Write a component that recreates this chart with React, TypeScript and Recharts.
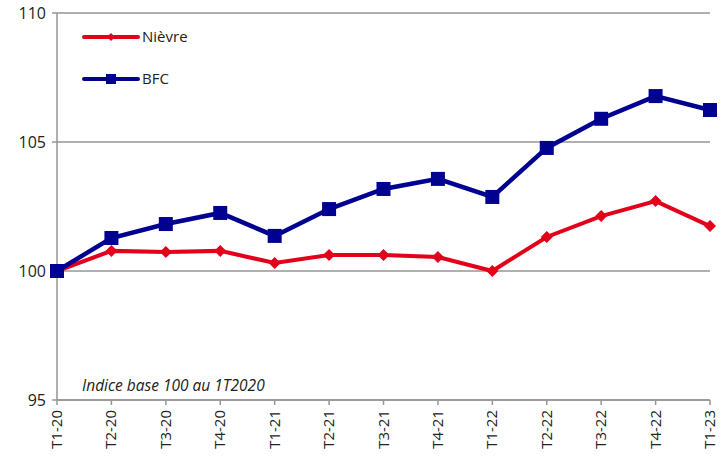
import { LineChart, Line, XAxis, YAxis, CartesianGrid } from 'recharts';

const quarters = [
  'T1-20', 'T2-20', 'T3-20', 'T4-20',
  'T1-21', 'T2-21', 'T3-21', 'T4-21',
  'T1-22', 'T2-22', 'T3-22', 'T4-22',
  'T1-23',
];
const nievre = [100, 100.78, 100.74, 100.78, 100.31, 100.62, 100.62, 100.54, 100, 101.32, 102.13, 102.71, 101.74];
const bfc = [100, 101.28, 101.82, 102.25, 101.36, 102.4, 103.18, 103.57, 102.87, 104.77, 105.9, 106.78, 106.24];
const yTicks = [95, 100, 105, 110];

const data = quarters.map((q, i) => ({ q, nievre: nievre[i], bfc: bfc[i] }));

const RED = '#e2001a';
const BLUE = '#000091';
const GREY = '#969696';
const FONT = '"Open Sans", sans-serif';

const Diamond = ({ cx, cy, size = 6 }: any) => {
  if (cx == null || cy == null) return null;
  return (
    <polygon
      points={`${cx},${cy - size} ${cx + size},${cy} ${cx},${cy + size} ${cx - size},${cy}`}
      fill={RED}
    />
  );
};

const Square = ({ cx, cy, size = 7 }: any) => {
  if (cx == null || cy == null) return null;
  return <rect x={cx - size} y={cy - size} width={size * 2} height={size * 2} fill={BLUE} />;
};

const LegendBox = () => (
  <svg width={180} height={70} style={{ fontFamily: FONT, display: 'block', overflow: 'visible' }}>
    <line x1={2} y1={9} x2={56} y2={9} stroke={RED} strokeWidth={4} strokeLinecap="round" />
    <Diamond cx={29} cy={9} size={4} />
    <text x={60} y={14} fontSize={15} fill="#222">Nièvre</text>
    <line x1={2} y1={51} x2={56} y2={51} stroke={BLUE} strokeWidth={4} strokeLinecap="round" />
    <Square cx={29} cy={51} size={5} />
    <text x={60} y={56} fontSize={15} fill="#222">BFC</text>
  </svg>
);

const XTick = ({ x, y, payload }: any) => (
  <text
    x={x}
    y={y}
    transform={`rotate(-90 ${x} ${y})`}
    dx={-3}
    dy={5}
    textAnchor="end"
    fontSize={15}
    fill="#222"
    fontFamily={FONT}
  >
    {payload.value}
  </text>
);

export default function App() {
  return (
    <div style={{ position: 'absolute', left: 0, top: 0, width: 728, height: 460, background: '#fff' }}>
      <LineChart width={728} height={460} data={data} margin={{ top: 13, right: 18, left: 7, bottom: 5 }}>
        <CartesianGrid horizontal vertical={false} stroke={GREY} strokeWidth={1.5} />
        <XAxis
          dataKey="q"
          interval={0}
          height={55}
          tick={<XTick />}
          tickSize={5}
          stroke={GREY}
          strokeWidth={1.5}
        />
        <YAxis
          domain={[95, 110]}
          ticks={yTicks}
          width={50}
          tickSize={5}
          tickMargin={6}
          stroke={GREY}
          strokeWidth={1.5}
          tick={{ fontSize: 16, fill: '#222', fontFamily: FONT }}
        />
        <Line
          dataKey="nievre"
          stroke={RED}
          strokeWidth={4}
          dot={<Diamond />}
          activeDot={false}
          isAnimationActive={false}
        />
        <Line
          dataKey="bfc"
          stroke={BLUE}
          strokeWidth={4.5}
          dot={<Square />}
          activeDot={false}
          isAnimationActive={false}
        />
      </LineChart>
      <div style={{ position: 'absolute', left: 82, top: 28 }}>
        <LegendBox />
      </div>
      <div
        style={{
          position: 'absolute',
          left: 82,
          top: 374,
          fontFamily: FONT,
          fontStyle: 'italic',
          fontSize: 15.5,
          color: '#222',
          whiteSpace: 'nowrap',
        }}
      >
        Indice base 100 au 1T2020
      </div>
    </div>
  );
}
